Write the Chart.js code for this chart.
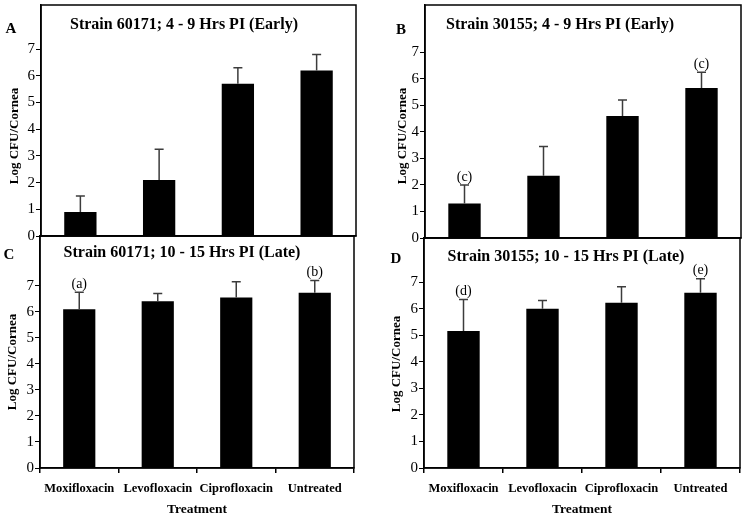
<!DOCTYPE html>
<html>
<head>
<meta charset="utf-8">
<script src="https://cdn.jsdelivr.net/npm/chart.js@4"></script>
<style>
  body { margin: 0; background: #fff; }
  #wrap { position: relative; width: 747px; height: 519px; }
  canvas { position: absolute; }
</style>
</head>
<body>
<div id="wrap">
  <canvas id="pC"></canvas>
  <canvas id="pD"></canvas>
  <canvas id="pA"></canvas>
  <canvas id="pB"></canvas>
</div>
<script>
// data
const treatments = ["Moxifloxacin", "Levofloxacin", "Ciprofloxacin", "Untreated"];
const yTicks = [0, 1, 2, 3, 4, 5, 6, 7];

const early60171 = [0.9, 2.1, 5.7, 6.2];
const early60171Err = [0.6, 1.15, 0.6, 0.6];
const early60171Sig = ["", "", "", ""];

const early30155 = [1.3, 2.35, 4.6, 5.65];
const early30155Err = [0.7, 1.1, 0.6, 0.6];
const early30155Sig = ["(c)", "", "", "(c)"];

const late60171 = [6.1, 6.4, 6.55, 6.73];
const late60171Err = [0.65, 0.3, 0.6, 0.47];
const late60171Sig = ["(a)", "", "", "(b)"];

const late30155 = [5.16, 6.0, 6.22, 6.6];
const late30155Err = [1.18, 0.31, 0.6, 0.53];
const late30155Sig = ["(d)", "", "", "(e)"];

const serif = "'Liberation Serif', 'Times New Roman', serif";

// panel layout (canvas box + plot area inside it)
let panels = [
  { id: "pA", x: 0, y: 0, w: 370, h: 246, left: 41, top: 5, right: 356, bottom: 236, yMax: 8.65,
    letter: "A", letterX: 11, letterY: 29, title: "Strain 60171; 4 - 9 Hrs PI (Early)", titleX: 184, titleY: 25,
    labX: 15, labY: 136, showX: false,
    means: early60171, errs: early60171Err, marks: early60171Sig },
  { id: "pB", x: 370, y: 0, w: 377, h: 248, left: 55, top: 5, right: 371, bottom: 238, yMax: 8.78,
    letter: "B", letterX: 31, letterY: 30, title: "Strain 30155; 4 - 9 Hrs PI (Early)", titleX: 190, titleY: 25,
    labX: 33, labY: 136, showX: false,
    means: early30155, errs: early30155Err, marks: early30155Sig },
  { id: "pC", x: 0, y: 235, w: 370, h: 284, left: 40, top: 1, right: 354, bottom: 233, yMax: 8.91,
    letter: "C", letterX: 9, letterY: 20, title: "Strain 60171; 10 - 15 Hrs PI (Late)", titleX: 182, titleY: 18,
    labX: 13, labY: 127, showX: true,
    means: late60171, errs: late60171Err, marks: late60171Sig },
  { id: "pD", x: 370, y: 237, w: 377, h: 282, left: 54, top: 1, right: 370, bottom: 231, yMax: 8.66,
    letter: "D", letterX: 26, letterY: 22, title: "Strain 30155; 10 - 15 Hrs PI (Late)", titleX: 196, titleY: 20,
    labX: 27, labY: 127, showX: true,
    means: late30155, errs: late30155Err, marks: late30155Sig }
];

function makePanel(p) {
  let cv = document.getElementById(p.id);
  cv.width = p.w;
  cv.height = p.h;
  cv.style.left = p.x + "px";
  cv.style.top = p.y + "px";

  // error bars, significance letters, frame and texts
  let decor = {
    id: "decor" + p.id,
    afterDatasetsDraw(chart) {
      let ctx = chart.ctx;
      let ys = chart.scales.y;
      let bars = chart.getDatasetMeta(0).data;
      ctx.save();
      bars.forEach((bar, i) => {
        let base = ys.getPixelForValue(p.means[i]);
        let tip = ys.getPixelForValue(p.means[i] + p.errs[i]);
        ctx.strokeStyle = "#3c3c3c";
        ctx.lineWidth = 1.5;
        ctx.beginPath();
        ctx.moveTo(bar.x, base);
        ctx.lineTo(bar.x, tip);
        ctx.moveTo(bar.x - 4.5, tip);
        ctx.lineTo(bar.x + 4.5, tip);
        ctx.stroke();
        if (p.marks[i]) {
          ctx.fillStyle = "#000";
          ctx.font = "14px " + serif;
          ctx.textAlign = "center";
          ctx.textBaseline = "bottom";
          ctx.fillText(p.marks[i], bar.x, tip - 1);
        }
      });
      ctx.restore();
    },
    afterDraw(chart) {
      let ctx = chart.ctx;
      let a = chart.chartArea;
      ctx.save();
      ctx.strokeStyle = "#000";
      ctx.lineWidth = 1.5;
      ctx.strokeRect(a.left, a.top, a.right - a.left, a.bottom - a.top);

      ctx.fillStyle = "#000";
      ctx.textAlign = "center";
      ctx.textBaseline = "middle";
      ctx.font = "bold 16px " + serif;
      ctx.fillText(p.title, p.titleX, p.titleY);
      ctx.font = "bold 15px " + serif;
      ctx.fillText(p.letter, p.letterX, p.letterY);

      ctx.translate(p.labX, p.labY);
      ctx.rotate(-Math.PI / 2);
      ctx.font = "bold 13px " + serif;
      ctx.fillText("Log CFU/Cornea", 0, 0);
      ctx.restore();
    }
  };

  return new Chart(cv, {
    type: "bar",
    data: {
      labels: treatments,
      datasets: [{
        data: p.means,
        backgroundColor: "#000",
        borderWidth: 0,
        barPercentage: 0.41,
        categoryPercentage: 1.0
      }]
    },
    options: {
      responsive: false,
      animation: false,
      devicePixelRatio: 1,
      layout: { padding: { left: 0, top: p.top, right: p.w - p.right, bottom: 0 } },
      plugins: { legend: { display: false }, tooltip: { enabled: false }, title: { display: false } },
      scales: {
        x: {
          offset: true,
          grid: { offset: true, drawOnChartArea: false, drawTicks: p.showX, tickLength: 5, color: "#000", lineWidth: 1.5 },
          border: { display: true, color: "#000", width: 1.5 },
          ticks: { display: p.showX, color: "#000", padding: 8, maxRotation: 0, autoSkip: false,
                   font: { family: serif, size: 12.5, weight: "bold" } },
          title: { display: p.showX, text: "Treatment", color: "#000", padding: { top: 0, bottom: 1 },
                   font: { family: serif, size: 13.5, weight: "bold" } },
          afterFit: (s) => {
            s.height = p.h - p.bottom;
            s.paddingLeft = 0;
            s.paddingRight = 0;
          }
        },
        y: {
          min: 0,
          max: p.yMax,
          afterBuildTicks: (s) => { s.ticks = yTicks.map(v => ({ value: v })); },
          grid: { drawOnChartArea: false, drawTicks: true, tickLength: 5, color: "#000", lineWidth: 1 },
          border: { display: true, color: "#000", width: 1.5 },
          ticks: { color: "#000", padding: 1, font: { family: serif, size: 15 } },
          afterFit: (s) => {
            s.width = p.left;
            s.paddingTop = 0;
            s.paddingBottom = 0;
          }
        }
      }
    },
    plugins: [decor]
  });
}

panels.forEach(makePanel);
</script>
</body>
</html>
